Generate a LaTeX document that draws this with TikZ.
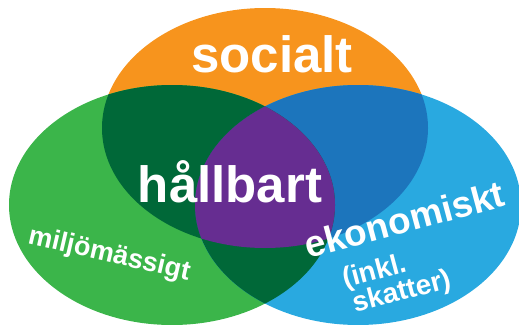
\documentclass[tikz,border=0pt]{standalone}
\usepackage{fontspec}
\setmainfont{Liberation Sans}
\usepackage{tikz}
\definecolor{socialorange}{HTML}{F7941D}
\definecolor{miljogreen}{HTML}{3BB54A}
\definecolor{ekoblue}{HTML}{29A9E0}
\definecolor{darkgreen}{HTML}{006838}
\definecolor{darkblue}{HTML}{1C75BC}
\definecolor{midpurple}{HTML}{662D91}

\begin{document}
\begin{tikzpicture}[x=1pt,y=1pt]
              \tikzstyle{every node}+=[inner sep=0pt, text=white]
              \useasboundingbox (0,0) rectangle (519,-324);
              \fill [socialorange] (265,-128) ellipse (163pt and 120pt);
              \fill [miljogreen] (172,-205) ellipse (163pt and 120pt);
              \fill [ekoblue] (358,-205) ellipse (163pt and 120pt);
              \begin{scope}
                \clip (265,-128) ellipse (163pt and 120pt);
                \fill [darkgreen] (172,-205) ellipse (163pt and 120pt);
                \fill [darkblue] (358,-205) ellipse (163pt and 120pt);
              \end{scope}
              \begin{scope}
                \clip (172,-205) ellipse (163pt and 120pt);
                \fill [darkgreen] (358,-205) ellipse (163pt and 120pt);
                \clip (265,-128) ellipse (163pt and 120pt);
                \fill [midpurple] (358,-205) ellipse (163pt and 120pt);
              \end{scope}
              \node [anchor=base, font=\bfseries\fontsize{51}{51}\selectfont] (socialt) at (272,-72) {socialt};
              \node [anchor=base, font=\bfseries\fontsize{51}{51}\selectfont] (hallbart) at (230,-202) {hållbart};
              \node [anchor=base west, rotate=-13, font=\bfseries\fontsize{27}{27}\selectfont] (miljo) at (27,-243) {miljömässigt};
              \node [anchor=base west, rotate=15, font=\bfseries\fontsize{37}{37}\selectfont] (ekonomiskt) at (308,-259) {ekonomiskt};
              \node [anchor=base west, rotate=15, font=\bfseries\fontsize{28}{28}\selectfont] (inkl) at (345,-288) {(inkl.};
              \node [anchor=base west, rotate=15, font=\bfseries\fontsize{28}{28}\selectfont] (skatter) at (355,-313) {skatter)};
            \end{tikzpicture}
\end{document}
